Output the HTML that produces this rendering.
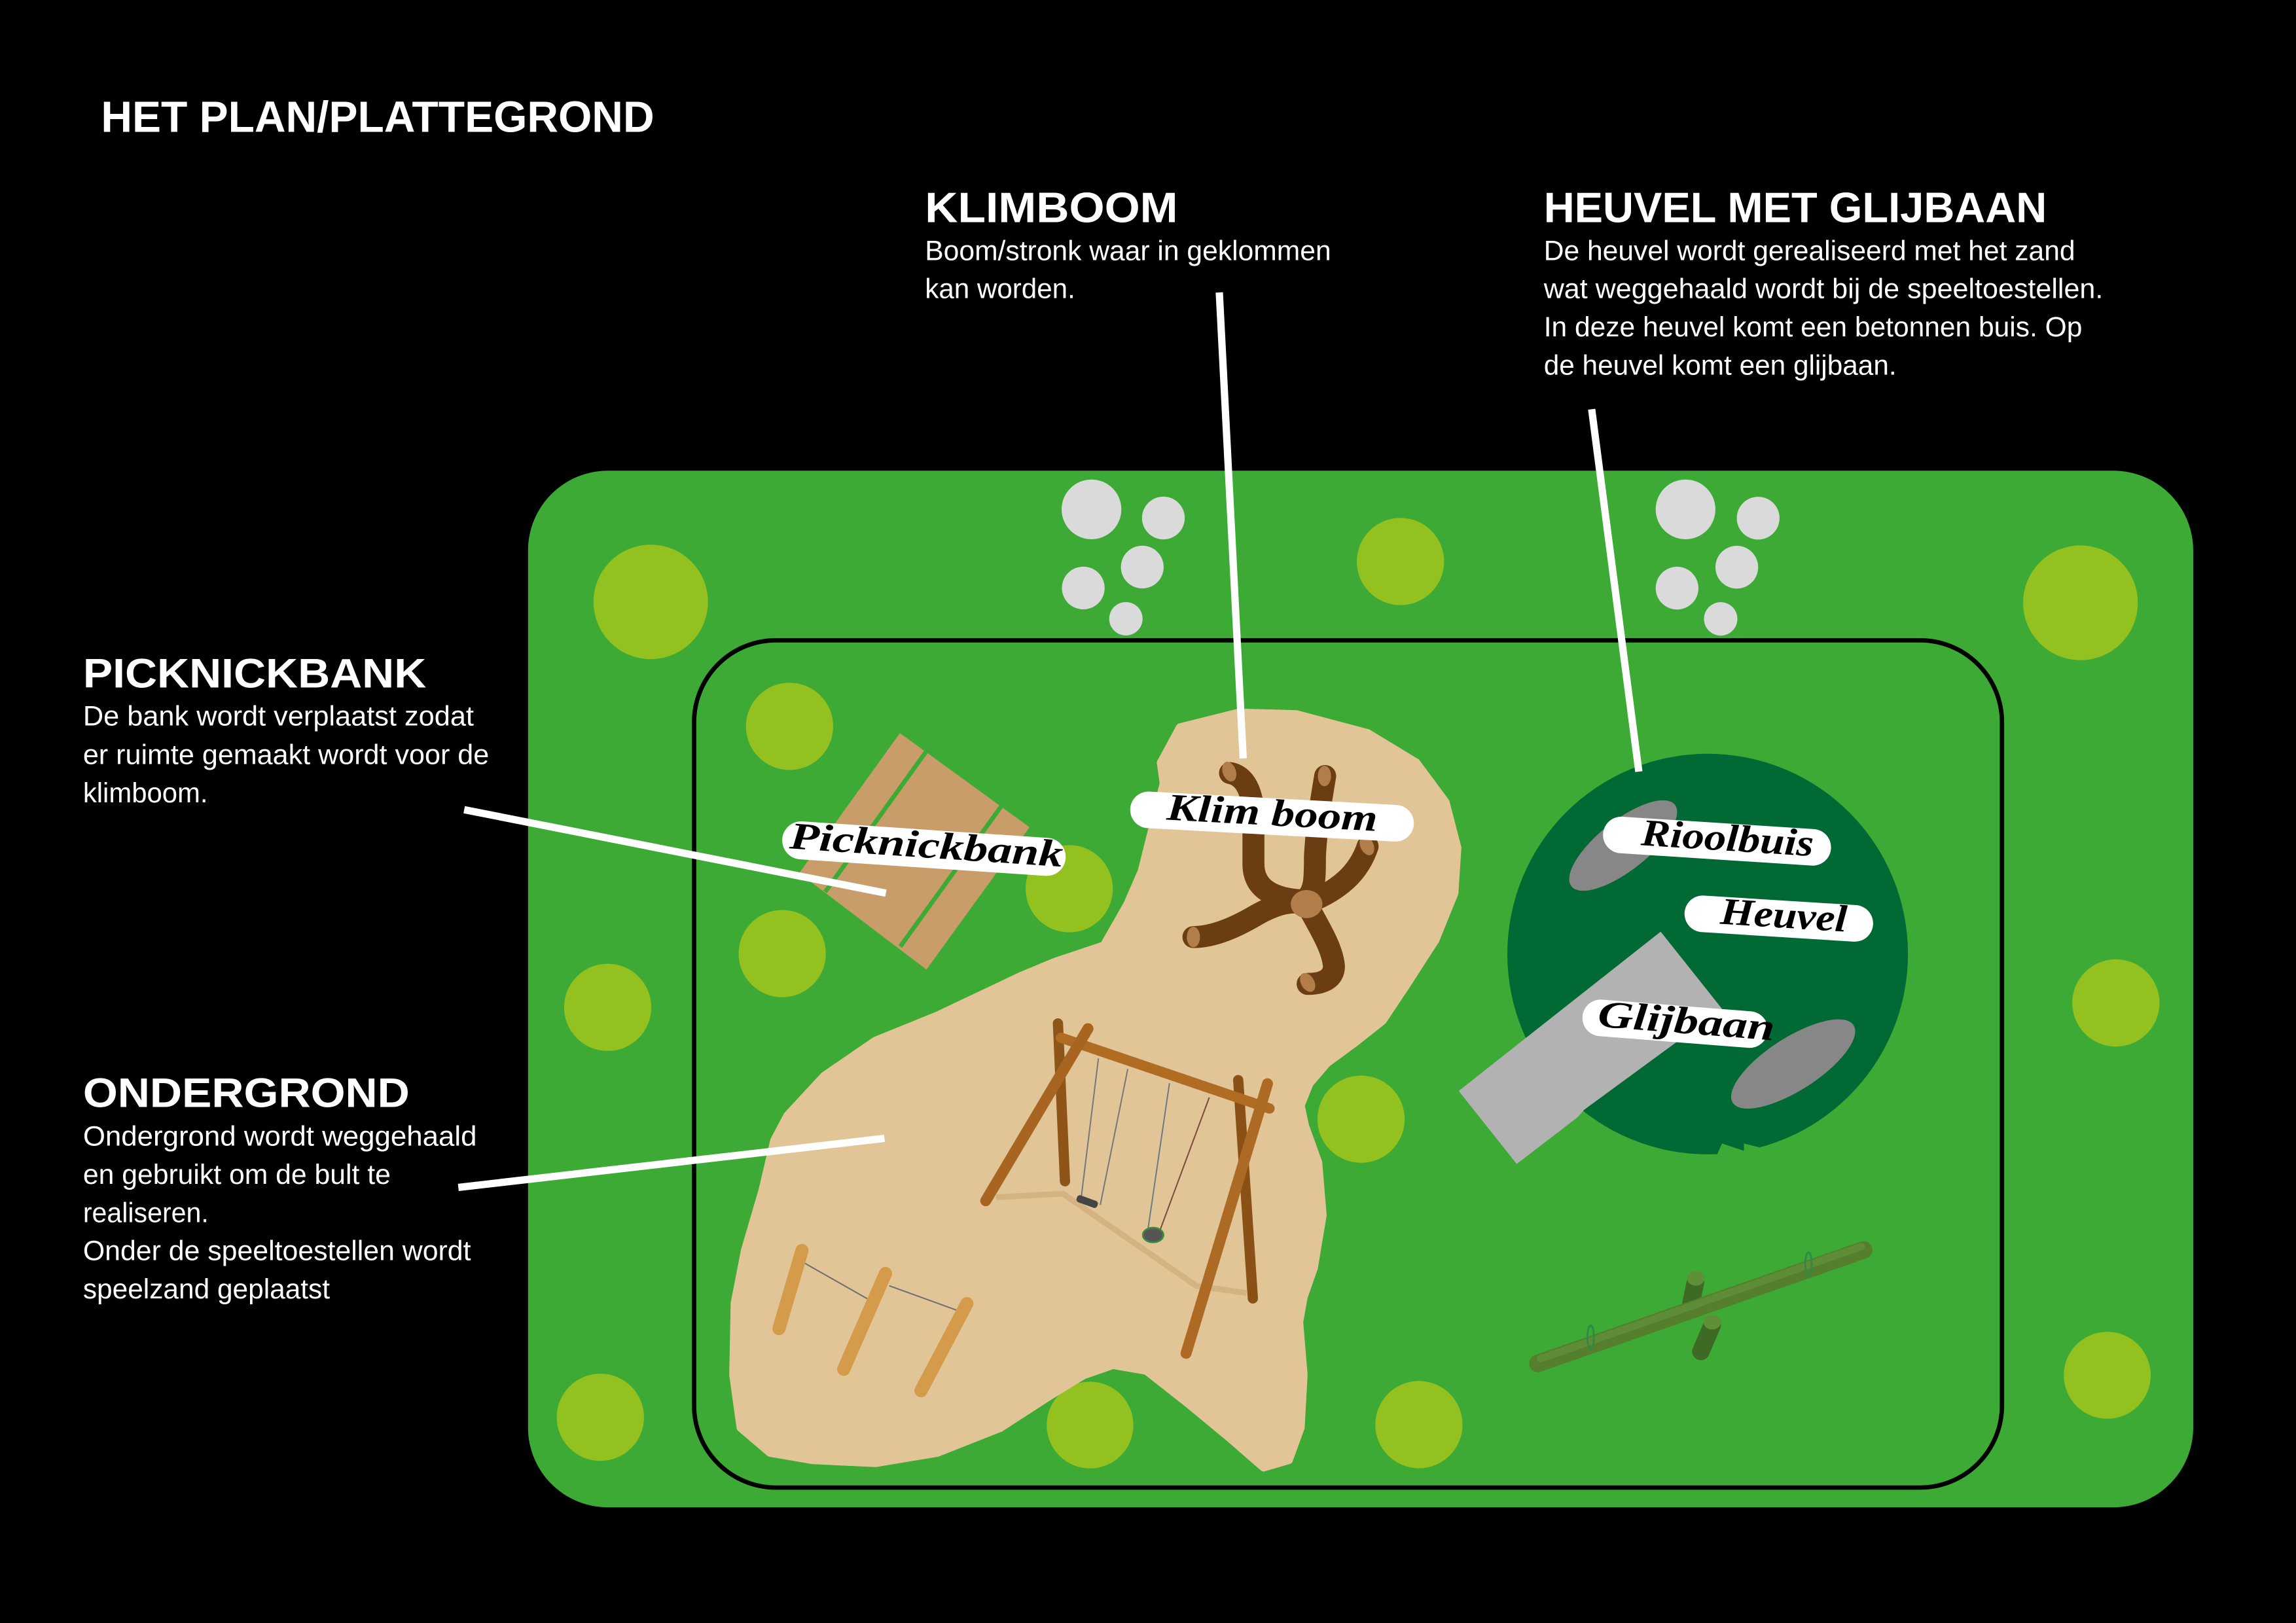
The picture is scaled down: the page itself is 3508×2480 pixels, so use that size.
<!DOCTYPE html>
<html>
<head>
<meta charset="utf-8">
<style>
  html, body { margin:0; padding:0; background:#000; width:3508px; height:2480px; overflow:hidden; }
  svg { display:block; }
  .h { font-family:"Liberation Sans", sans-serif; font-weight:bold; fill:#fff; }
  .b { font-family:"Liberation Sans", sans-serif; font-weight:normal; fill:#fff; font-size:19px; }
  .lbl { font-family:"Liberation Serif", "DejaVu Serif", serif; font-style:italic; font-weight:bold; fill:#000; font-size:26px; }
</style>
</head>
<body>
<svg width="3508" height="2480" viewBox="0 0 1568 1108.5" preserveAspectRatio="none" xmlns="http://www.w3.org/2000/svg">
  <rect x="0" y="0" width="1568" height="1108.5" fill="#000"/>

  <!-- Headings and text -->
  <text class="h" x="69" y="90.1" font-size="30" textLength="377.8" lengthAdjust="spacingAndGlyphs">HET PLAN/PLATTEGROND</text>

  <text class="h" x="631.7" y="151.7" font-size="29" textLength="172.7" lengthAdjust="spacingAndGlyphs">KLIMBOOM</text>
  <text class="b" x="631.7" y="177.6" textLength="277.3" lengthAdjust="spacingAndGlyphs">Boom/stronk waar in geklommen</text>
  <text class="b" x="631.7" y="203.7" textLength="102.6" lengthAdjust="spacingAndGlyphs">kan worden.</text>

  <text class="h" x="1054.3" y="151.7" font-size="29" textLength="343.5" lengthAdjust="spacingAndGlyphs">HEUVEL MET GLIJBAAN</text>
  <text class="b" x="1054.3" y="177.6" textLength="362.9" lengthAdjust="spacingAndGlyphs">De heuvel wordt gerealiseerd met het zand</text>
  <text class="b" x="1054.3" y="203.7" textLength="382" lengthAdjust="spacingAndGlyphs">wat weggehaald wordt bij de speeltoestellen.</text>
  <text class="b" x="1054.3" y="229.8" textLength="367.7" lengthAdjust="spacingAndGlyphs">In deze heuvel komt een betonnen buis. Op</text>
  <text class="b" x="1054.3" y="255.8" textLength="240.9" lengthAdjust="spacingAndGlyphs">de heuvel komt een glijbaan.</text>

  <text class="h" x="56.7" y="469.5" font-size="28" textLength="234.4" lengthAdjust="spacingAndGlyphs">PICKNICKBANK</text>
  <text class="b" x="56.7" y="495.5" textLength="266.9" lengthAdjust="spacingAndGlyphs">De bank wordt verplaatst zodat</text>
  <text class="b" x="56.7" y="521.9" textLength="277.3" lengthAdjust="spacingAndGlyphs">er ruimte gemaakt wordt voor de</text>
  <text class="b" x="56.7" y="547.9" textLength="85.2" lengthAdjust="spacingAndGlyphs">klimboom.</text>

  <text class="h" x="56.7" y="756" font-size="28" textLength="223" lengthAdjust="spacingAndGlyphs">ONDERGROND</text>
  <text class="b" x="56.7" y="782.5" textLength="268.9" lengthAdjust="spacingAndGlyphs">Ondergrond wordt weggehaald</text>
  <text class="b" x="56.7" y="808.6" textLength="210.1" lengthAdjust="spacingAndGlyphs">en gebruikt om de bult te</text>
  <text class="b" x="56.7" y="834.7" textLength="85.8" lengthAdjust="spacingAndGlyphs">realiseren.</text>
  <text class="b" x="56.7" y="860.7" textLength="264.9" lengthAdjust="spacingAndGlyphs">Onder de speeltoestellen wordt</text>
  <text class="b" x="56.7" y="886.8" textLength="168.6" lengthAdjust="spacingAndGlyphs">speelzand geplaatst</text>

  <!-- Field -->
  <rect x="360.6" y="321.5" width="1137.2" height="708" rx="54.5" ry="54.5" fill="#3caa35"/>
  <rect x="474" y="437.3" width="893.2" height="578.7" rx="56" ry="56" fill="none" stroke="#000" stroke-width="3"/>

  <!-- light green circles -->
  <g fill="#93c11f">
    <circle cx="444.4" cy="411.1" r="39.1"/>
    <circle cx="956.4" cy="383.5" r="29.8"/>
    <circle cx="1420.8" cy="411.7" r="39.2"/>
    <circle cx="539.2" cy="496.1" r="29.8"/>
    <circle cx="534.2" cy="651.3" r="29.8"/>
    <circle cx="730.2" cy="607" r="29.8"/>
    <circle cx="415" cy="688" r="29.8"/>
    <circle cx="929.5" cy="764.4" r="29.8"/>
    <circle cx="1445" cy="685" r="29.8"/>
    <circle cx="410" cy="968" r="29.8"/>
    <circle cx="744.4" cy="973.3" r="29.6"/>
    <circle cx="969" cy="973" r="29.8"/>
    <circle cx="1439.1" cy="939.3" r="29.7"/>
  </g>

  <!-- grey circles -->
  <g fill="#dadada">
    <circle cx="745.4" cy="347.9" r="20.4"/>
    <circle cx="794.5" cy="353.8" r="14.6"/>
    <circle cx="780.1" cy="387.3" r="14.6"/>
    <circle cx="739.8" cy="401.6" r="14.6"/>
    <circle cx="768.9" cy="422.6" r="11.4"/>
    <circle cx="1151.1" cy="347.9" r="20.4"/>
    <circle cx="1200.7" cy="353.9" r="14.6"/>
    <circle cx="1186.1" cy="387.4" r="14.6"/>
    <circle cx="1145.3" cy="401.7" r="14.6"/>
    <circle cx="1175.1" cy="422.7" r="11.4"/>
  </g>

  <!-- sand -->
  <polygon fill="#e2c596" stroke="#e2c596" stroke-width="6" stroke-linejoin="round"
    points="846,487 885,488 934,501 967,521 987,548 995,579 993,610 980,642 960,673 944,697 925,712 906,726 894,740 888,755 891,769 900,794 903,830 897,866 890,886 887,903 890,939 888,975 880,997 863,1002 840,982 811,958 783,936 760,932 740,939 717,953 683,975 640,992 598,999 555,997 526,992 506,975 501,939 502,890 509,854 521,813 529,779 538,762 563,735 598,711 640,694 697,667 721,657 754,646 770,618 780,595 788,563 795,535 793,521 806,497"/>

  <!-- picnic bench -->
  <polygon points="614.6,500.7 703.1,565 632.7,662.2 545.8,596.3" fill="#c99d69"/>
  <line x1="632.3" y1="513.6" x2="563.5" y2="609.2" stroke="#3caa35" stroke-width="3"/>
  <line x1="683.6" y1="550.9" x2="614.8" y2="646.5" stroke="#3caa35" stroke-width="3"/>

  <!-- climbing tree -->
  <g fill="none" stroke="#6b3d13" stroke-width="15" stroke-linecap="round">
    <path d="M840,528 C852,530 857,545 856,565 L856,590 C856,606 868,614 890,615"/>
    <path d="M905,530 C902,548 899,565 898,585 C898,600 898,608 892,614"/>
    <path d="M934,578 C928,596 915,608 892,617"/>
    <path d="M815,640 C830,640 846,632 858,625 C872,617 882,615 892,617"/>
    <path d="M892,617 C902,635 910,648 911,660 C911,668 904,672 893,672"/>
  </g>
  <g fill="#b17d4a">
    <ellipse cx="839.5" cy="527" rx="4.5" ry="7" transform="rotate(-20 839.5 527)"/>
    <ellipse cx="904.5" cy="530" rx="4.5" ry="7"/>
    <ellipse cx="933.5" cy="577.5" rx="4.5" ry="7" transform="rotate(-25 933.5 577.5)"/>
    <ellipse cx="815" cy="640" rx="4.5" ry="7"/>
    <ellipse cx="893" cy="671" rx="4.5" ry="7" transform="rotate(-30 893 671)"/>
    <ellipse cx="892.3" cy="617.5" rx="10.8" ry="9.6"/>
  </g>

  <!-- swing shadows -->
  <polyline points="680.3,817.7 725.9,815.3 817.1,878.3 851.3,883.1" fill="none" stroke="#b8915c" stroke-opacity="0.35" stroke-width="4"/>

  <!-- swing set -->
  <g stroke-linecap="round" fill="none">
    <line x1="722.5" y1="699" x2="727.3" y2="806.8" stroke="#8f5417" stroke-width="7"/>
    <line x1="845.6" y1="737.7" x2="855.6" y2="886.8" stroke="#8a5015" stroke-width="7"/>
    <line x1="724.5" y1="708.7" x2="867" y2="757.1" stroke="#b06c22" stroke-width="7"/>
    <line x1="750.1" y1="723.2" x2="738.3" y2="818.7" stroke="#777" stroke-width="0.9"/>
    <line x1="770.1" y1="730.5" x2="751.5" y2="822.6" stroke="#777" stroke-width="0.9"/>
    <line x1="798.6" y1="740.2" x2="783.5" y2="842.8" stroke="#6a7a8a" stroke-width="0.9"/>
    <line x1="825.7" y1="749.9" x2="792.3" y2="840" stroke="#7a4a3a" stroke-width="0.9"/>
    <line x1="743" y1="702.6" x2="673.2" y2="820.1" stroke="#a86522" stroke-width="7.5"/>
    <line x1="865.6" y1="740.2" x2="810" y2="924.3" stroke="#ad6a24" stroke-width="7.5"/>
  </g>
  <rect x="735" y="818" width="15" height="5" rx="2" fill="#454545" transform="rotate(20 742 820.5)"/>
  <ellipse cx="787.5" cy="843.5" rx="7" ry="5" fill="#555" stroke="#3c8a3c" stroke-width="1.2"/>

  <!-- balance logs -->
  <g stroke-linecap="round" fill="none">
    <line x1="549.1" y1="862.5" x2="591.9" y2="886.8" stroke="#6e6e6e" stroke-width="0.9"/>
    <line x1="607.6" y1="878.3" x2="654.6" y2="895.3" stroke="#6e6e6e" stroke-width="0.9"/>
    <line x1="547.7" y1="854.1" x2="532" y2="907.4" stroke="#d39b4a" stroke-width="9"/>
    <line x1="604.7" y1="869.8" x2="576.2" y2="935.2" stroke="#d39b4a" stroke-width="9"/>
    <line x1="660.3" y1="890.4" x2="629" y2="949.8" stroke="#d39b4a" stroke-width="9"/>
  </g>

  <!-- hill -->
  <circle cx="1166.2" cy="651.6" r="136.8" fill="#006934"/>
  <polygon points="1176,781 1191,786 1191,781 1203,784 1206,790 1172,790" fill="#3caa35"/>
  <ellipse cx="1108.5" cy="577.5" rx="45" ry="17" transform="rotate(-38.3 1108.5 577.5)" fill="#878787"/>
  <ellipse cx="1224.6" cy="726.7" rx="49" ry="18" transform="rotate(-32.7 1224.6 726.7)" fill="#878787"/>
  <polygon points="996.2,745.1 1134.1,636.3 1176,689 1081.8,758 1077.5,763 1035.8,795" fill="#b2b2b2"/>

  <!-- seesaw -->
  <g stroke-linecap="round" fill="none">
    <line x1="1158" y1="875" x2="1154.7" y2="891" stroke="#3f6a26" stroke-width="12"/>
    <line x1="1169.3" y1="905" x2="1161.6" y2="923" stroke="#3f6a26" stroke-width="12"/>
    <line x1="1050.3" y1="931.2" x2="1272.8" y2="853.7" stroke="#557f2d" stroke-width="12"/>
    <line x1="1052" y1="928" x2="1271" y2="851.5" stroke="#64913a" stroke-width="5" stroke-opacity="0.7"/>
  </g>
  <ellipse cx="1158.1" cy="873.1" rx="6" ry="5" fill="#5f8f37"/>
  <ellipse cx="1169.3" cy="903" rx="6" ry="5" fill="#5f8f37"/>
  <ellipse cx="1086.3" cy="913.3" rx="2.2" ry="8" fill="none" stroke="#2f8a45" stroke-width="1.3"/>
  <ellipse cx="1235.1" cy="863.4" rx="2.2" ry="8" fill="none" stroke="#2f8a45" stroke-width="1.3"/>

  <!-- labels -->
  <g transform="translate(631,579.6) rotate(3.85)">
    <rect x="-97" y="-13" width="194" height="26" rx="13" fill="#fff"/>
    <text class="lbl" x="-92" y="6" font-size="27" textLength="187" lengthAdjust="spacingAndGlyphs">Picknickbank</text>
  </g>
  <g transform="translate(868.7,557.7) rotate(3.1)">
    <rect x="-97" y="-12.5" width="194" height="25" rx="12.5" fill="#fff"/>
    <text class="lbl" x="-72" y="6" textLength="144" lengthAdjust="spacingAndGlyphs">Klim boom</text>
  </g>
  <g transform="translate(1172.6,574.5) rotate(3.7)">
    <rect x="-78" y="-12.5" width="156" height="25" rx="12.5" fill="#fff"/>
    <text class="lbl" x="-52" y="6" textLength="118" lengthAdjust="spacingAndGlyphs">Rioolbuis</text>
  </g>
  <g transform="translate(1214.8,627.4) rotate(3.6)">
    <rect x="-64.5" y="-12.5" width="129" height="25" rx="12.5" fill="#fff"/>
    <text class="lbl" x="-40" y="6" textLength="86.5" lengthAdjust="spacingAndGlyphs">Heuvel</text>
  </g>
  <g transform="translate(1144,699.2) rotate(4.5)">
    <rect x="-63.5" y="-12.5" width="127" height="25" rx="12.5" fill="#fff"/>
    <text class="lbl" x="-53" y="6" textLength="121" lengthAdjust="spacingAndGlyphs">Glijbaan</text>
  </g>

  <!-- connector lines -->
  <g stroke="#fff" stroke-width="5" fill="none">
    <line x1="832.7" y1="199.7" x2="849" y2="518"/>
    <line x1="1087" y1="279.5" x2="1119.2" y2="527"/>
    <line x1="317" y1="553" x2="605" y2="610"/>
    <line x1="313" y1="811" x2="604" y2="777.5"/>
  </g>
</svg>
</body>
</html>
